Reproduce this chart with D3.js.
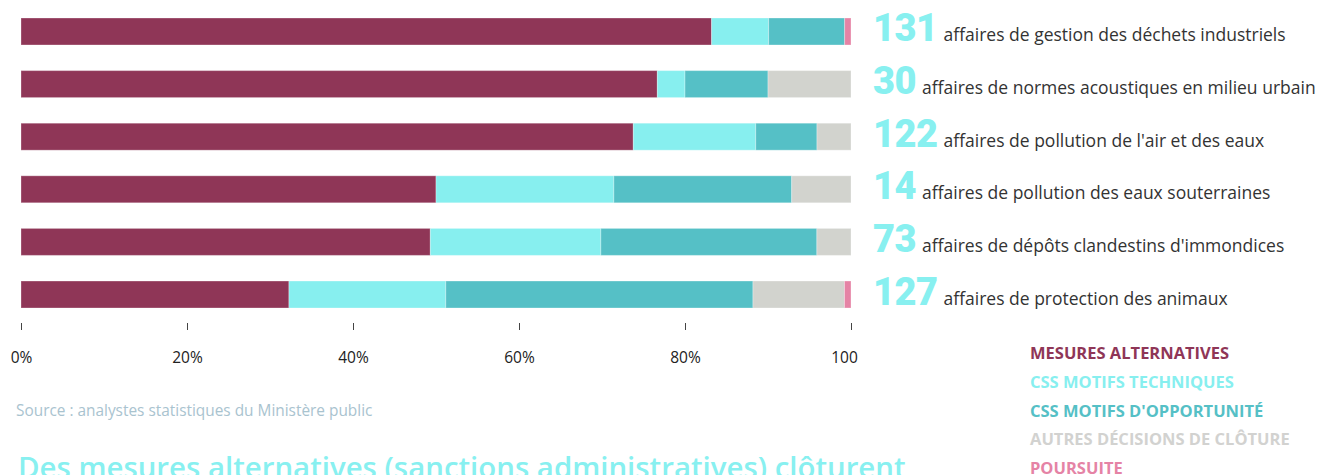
<!DOCTYPE html>
<html>
<head>
<meta charset="utf-8">
<script src="https://cdn.jsdelivr.net/npm/d3@7"></script>
<style>
  html, body { margin: 0; padding: 0; background: #fff; }
  svg { display: block; font-family: "Open Sans", "Noto Sans", sans-serif; }
</style>
</head>
<body>
<svg id="chart" width="1326" height="475"></svg>
<script>
// ---- data ----
const categories = [
  "affaires de gestion des déchets industriels",
  "affaires de normes acoustiques en milieu urbain",
  "affaires de pollution de l'air et des eaux",
  "affaires de pollution des eaux souterraines",
  "affaires de dépôts clandestins d'immondices",
  "affaires de protection des animaux"
];
const totals = [131, 30, 122, 14, 73, 127];
const seriesNames = [
  "MESURES ALTERNATIVES",
  "CSS MOTIFS TECHNIQUES",
  "CSS MOTIFS D'OPPORTUNITÉ",
  "AUTRES DÉCISIONS DE CLÔTURE",
  "POURSUITE"
];
const mesuresAlternatives = [109, 23, 90, 7, 36, 41];
const cssMotifsTechniques = [9, 1, 18, 3, 15, 24];
const cssMotifsOpportunite = [12, 3, 9, 3, 19, 47];
const autresDecisions = [0, 3, 5, 1, 3, 14];
const poursuite = [1, 0, 0, 0, 0, 1];
const tickValues = [0, 20, 40, 60, 80, 100];
const tickLabels = ["0%", "20%", "40%", "60%", "80%", "100"];
const sourceText = "Source : analystes statistiques du Ministère public";
const titleText = "Des mesures alternatives (sanctions administratives) clôturent";

const colors = ["#8F3657", "#87EFEF", "#55C0C6", "#D2D3CE", "#E583A5"];
const legendColors = ["#8F3657", "#87EFEF", "#55C0C6", "#D2D2D0", "#E583A5"];

// ---- build ----
const series = [mesuresAlternatives, cssMotifsTechniques, cssMotifsOpportunite, autresDecisions, poursuite];
const keys = ["s0", "s1", "s2", "s3", "s4"];
const rows = categories.map((c, i) => {
  const r = { cat: c, total: totals[i] };
  series.forEach((s, k) => { r[keys[k]] = s[i] / totals[i] * 100; });
  return r;
});
const stacked = d3.stack().keys(keys)(rows);

const svg = d3.select("#chart");
const x = d3.scaleLinear().domain([0, 100]).range([21, 851]);
const y = d3.scaleBand().domain(categories).range([18, 308]).paddingInner(0.487).paddingOuter(0);

const g = svg.append("g");
stacked.forEach((layer, k) => {
  g.append("g").selectAll("rect").data(layer).join("rect")
    .attr("x", d => x(d[0]))
    .attr("y", d => y(d.data.cat))
    .attr("width", d => Math.max(0, x(d[1]) - x(d[0])))
    .attr("height", y.bandwidth())
    .attr("fill", colors[k])
    .attr("stroke", d => (d[1] - d[0]) > 0 ? "rgba(255,255,255,0.3)" : "none")
    .attr("stroke-width", 1);
});

// axis
const axis = d3.axisBottom(x)
  .tickValues(tickValues)
  .tickFormat((d, i) => tickLabels[i])
  .tickSize(7)
  .tickPadding(22);
const ax = svg.append("g").attr("transform", "translate(0,323)").call(axis);
ax.select(".domain").remove();
ax.selectAll(".tick line").attr("stroke", "#444");
ax.selectAll(".tick text").attr("fill", "#222").style("font-size", "15.5px").style("font-family", "'Open Sans', sans-serif");
ax.selectAll(".tick text").filter(d => d === 100).attr("dx", -7);

// right labels
const lab = svg.append("g").selectAll("text").data(rows).join("text")
  .attr("x", 873)
  .attr("y", d => y(d.cat) + y.bandwidth() / 2 + 10);
lab.append("tspan")
  .text(d => d.total)
  .attr("fill", "#88F0F0")
  .style("font-family", "Roboto, sans-serif")
  .style("font-size", "38px")
  .style("font-weight", "900")
  .style("letter-spacing", "-0.5px");
lab.append("tspan")
  .attr("dx", 6)
  .text(d => d.cat)
  .attr("fill", "#333")
  .style("font-size", "17.5px");

// legend
svg.append("g").selectAll("text").data(seriesNames).join("text")
  .attr("x", 1030)
  .attr("y", (d, i) => 359 + i * 28.75)
  .text(d => d)
  .attr("fill", (d, i) => legendColors[i])
  .style("font-size", "16.5px")
  .style("font-weight", "700");

// source
svg.append("text").attr("x", 16).attr("y", 416).text(sourceText)
  .attr("fill", "#A9C3CF").style("font-size", "15.4px");

// title
svg.append("text").attr("x", 18).attr("y", 478).text(titleText)
  .attr("fill", "#88F0F0").style("font-size", "29.4px").style("font-weight", "600");
</script>
</body>
</html>
